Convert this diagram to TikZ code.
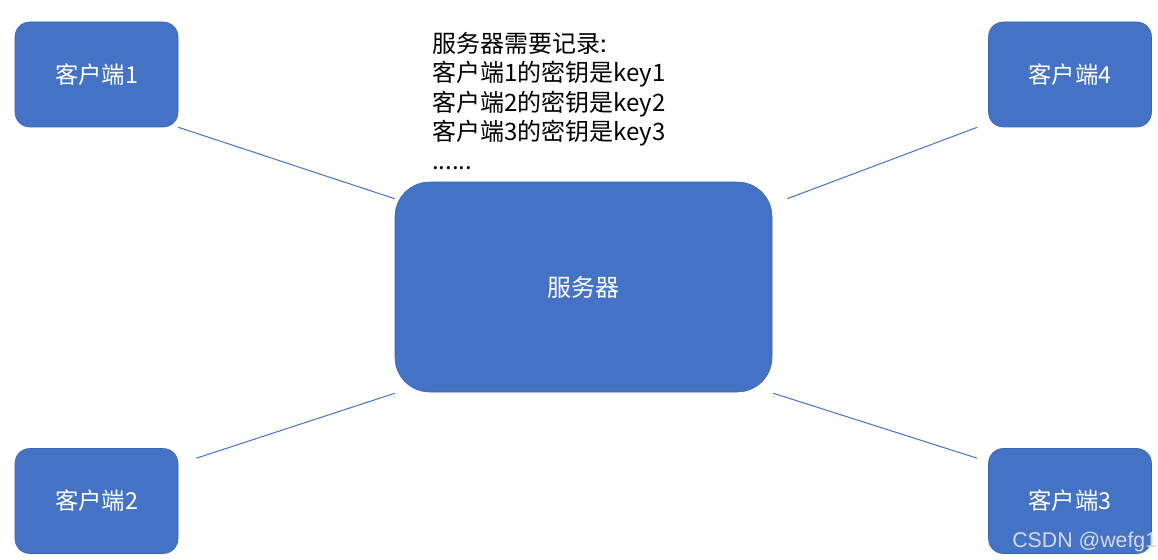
\documentclass[tikz,border=0pt]{standalone}
\usepackage{fontspec}
\setmainfont{Noto Sans CJK SC}
\newfontfamily\wmfont{Liberation Sans}
\usetikzlibrary{calc}
\definecolor{boxblue}{HTML}{4472C4}
\definecolor{boxedge}{HTML}{3A64B0}
\definecolor{wmgray}{HTML}{D4D8E0}
\tikzset{
  client/.style={fill=boxblue, draw=boxedge, line width=0.4pt, rounded corners=11pt,
    minimum width=122.25pt, minimum height=78.75pt, inner sep=0pt,
    text=white, font=\fontsize{17.5}{20}\selectfont},
  serverbox/.style={fill=boxblue, draw=boxedge, line width=0.4pt, rounded corners=26pt,
    minimum width=282.75pt, minimum height=157.5pt, inner sep=0pt,
    text=white, font=\fontsize{18}{21}\selectfont},
  link/.style={draw=boxblue, line width=0.75pt},
  note/.style={align=left, inner sep=0pt, font=\fontsize{18}{22}\selectfont, text=black},
}
\begin{document}
\begin{tikzpicture}[x=0.75pt,y=-0.75pt]
\useasboundingbox (0,0) rectangle (1158,560);
\fill[white] (0,0) rectangle (1158,560);
\node[client] (c1) at (96.5,74.5) {客户端1};
\node[client] (c4) at (1070,74.5) {客户端4};
\node[client] (c2) at (96.5,501) {客户端2};
\node[client] (c3) at (1070,501) {客户端3};
\node[serverbox] (srv) at (583.5,287) {服务器};
\node[note, anchor=north west] (rec) at (432,32) {服务器需要记录:\\客户端1的密钥是key1\\客户端2的密钥是key2\\客户端3的密钥是key3\\......};
\draw[link] (c1.south east) -- ([shift={(0,17)}]srv.north west);
\draw[link] ([shift={(15,17)}]srv.north east) -- ([shift={(-11,0)}]c4.south west);
\draw[link] ([shift={(18,10)}]c2.north east) -- ([shift={(0,1)}]srv.south west);
\draw[link] ([shift={(1,1)}]srv.south east) -- ([shift={(-11,10)}]c3.north west);
\node[anchor=base west, inner sep=0pt, text=wmgray, font=\wmfont\fontsize{16}{18}\selectfont] (wm) at (1012,547) {CSDN @wefg1};
\end{tikzpicture}
\end{document}
